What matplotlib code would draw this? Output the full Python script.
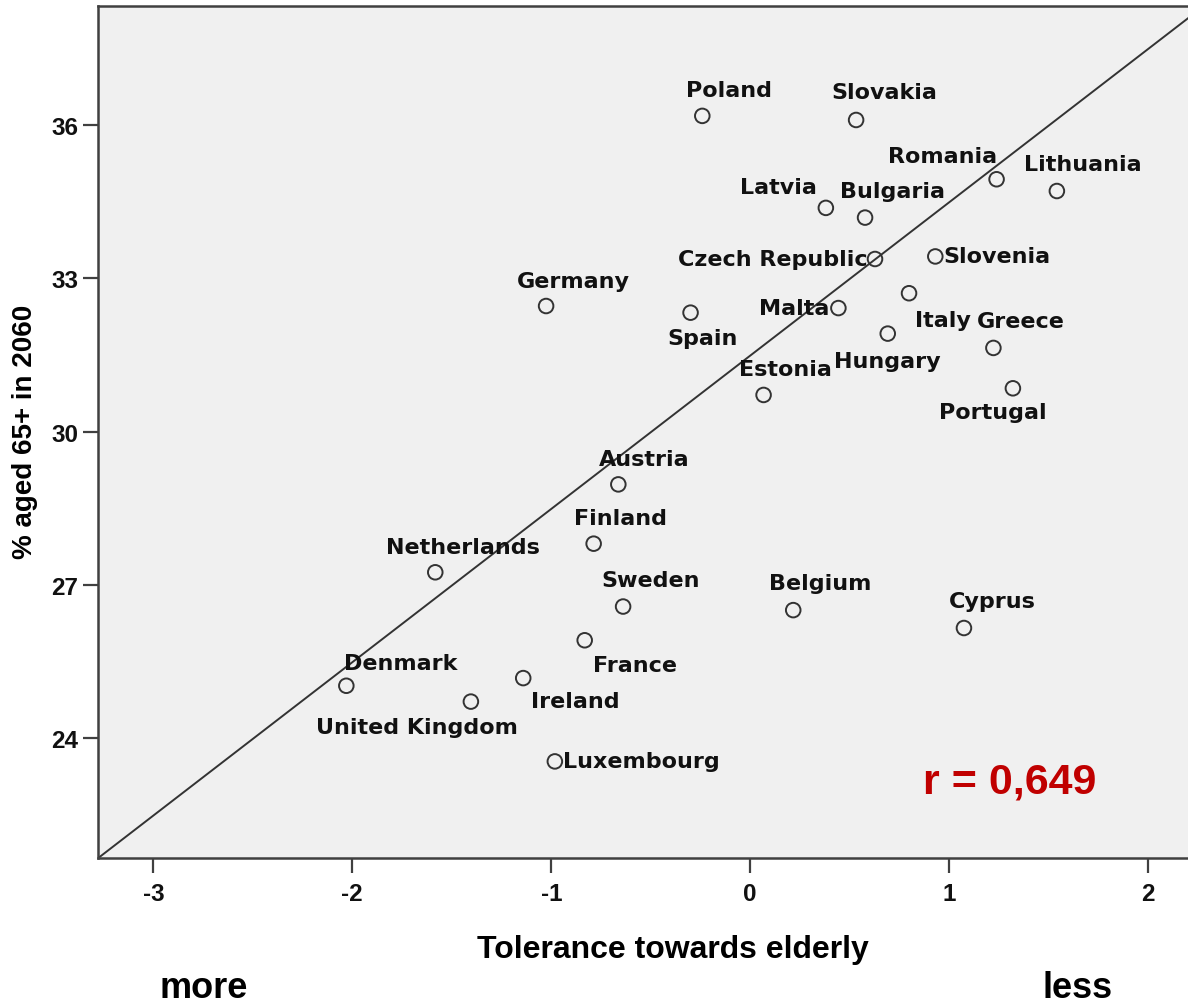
import matplotlib
matplotlib.use("Agg")
import matplotlib.pyplot as plt

plt.rcParams["axes.unicode_minus"] = False

# country, tolerance score, % aged 65+ in 2060
countries = ["Poland", "Slovakia", "Romania", "Lithuania", "Latvia", "Bulgaria",
             "Czech Republic", "Slovenia", "Italy", "Germany", "Spain", "Malta",
             "Hungary", "Estonia", "Greece", "Portugal", "Austria", "Finland",
             "Netherlands", "Sweden", "France", "Denmark", "Ireland",
             "United Kingdom", "Luxembourg", "Belgium", "Cyprus"]
tolerance = [-0.241, 0.532, 1.238, 1.541, 0.380, 0.577,
             0.627, 0.930, 0.798, -1.026, -0.300, 0.443,
             0.691, 0.067, 1.222, 1.320, -0.663, -0.787,
             -1.583, -0.639, -0.832, -2.030, -1.141,
             -1.404, -0.982, 0.216, 1.074]
aged65 = [36.18, 36.10, 34.94, 34.71, 34.38, 34.19,
          33.38, 33.43, 32.71, 32.46, 32.33, 32.42,
          31.92, 30.72, 31.64, 30.85, 28.97, 27.81,
          27.25, 26.58, 25.92, 25.03, 25.18,
          24.72, 23.55, 26.51, 26.16]

# label offsets in pixels (dx, dy up) and alignment
label_pos = {
    "Poland": (27, 26, "center"), "Slovakia": (28, 28, "center"),
    "Romania": (-54, 23, "center"), "Lithuania": (26, 27, "center"),
    "Latvia": (-47, 21, "center"), "Bulgaria": (27, 27, "center"),
    "Czech Republic": (-7, 0, "right"), "Slovenia": (8, 0, "left"),
    "Italy": (34, -27, "center"), "Germany": (27, 25, "center"),
    "Spain": (12, -25, "center"), "Malta": (-9, 0, "right"),
    "Hungary": (0, -27, "center"), "Estonia": (22, 26, "center"),
    "Greece": (27, 27, "center"), "Portugal": (-20, -24, "center"),
    "Austria": (26, 25, "center"), "Finland": (27, 26, "center"),
    "Netherlands": (28, 25, "center"), "Sweden": (28, 27, "center"),
    "France": (50, -25, "center"), "Denmark": (54, 23, "center"),
    "Ireland": (52, -23, "center"), "United Kingdom": (-54, -25, "center"),
    "Luxembourg": (8, 0, "left"), "Belgium": (27, 27, "center"),
    "Cyprus": (28, 27, "center"),
}

fit_intercept = 31.49
fit_slope = 3.0

W, H = 1188, 1004
fig = plt.figure(figsize=(W / 100, H / 100), dpi=100)
ax = fig.add_axes([98 / W, 1 - 859 / H, (W - 98) / W, (859 - 7) / H])
ax.set_facecolor("#f0f0f0")
ax.set_xlim(-3.278, 2.2)
ax.set_ylim(21.66, 38.33)

ax.axline((0, fit_intercept), slope=fit_slope, color="#333333", lw=1.4, zorder=2)
ax.scatter(tolerance, aged65, s=110, facecolors="none", edgecolors="#333333",
           linewidths=1.4, zorder=3)

for name, x, y in zip(countries, tolerance, aged65):
    dx, dy, ha = label_pos[name]
    ax.annotate(name, (x, y), xytext=(dx, dy), textcoords="offset pixels",
                ha=ha, va="center", fontsize=16, fontweight="bold",
                family="DejaVu Sans", color="#111111", zorder=4)

ax.set_xticks([-3, -2, -1, 0, 1, 2])
ax.set_yticks([24, 27, 30, 33, 36])
ax.tick_params(length=11, width=1.6, color="#404040", direction="out")
ax.tick_params(axis="x", pad=6)
ax.tick_params(axis="y", pad=3)
for lab in ax.get_xticklabels() + ax.get_yticklabels():
    lab.set_family("Liberation Sans")
    lab.set_fontweight("bold")
    lab.set_fontsize(17.5)
    lab.set_color("#111111")

for side in ["left", "bottom", "top"]:
    ax.spines[side].set_color("#404040")
    ax.spines[side].set_linewidth(1.8)
ax.spines["right"].set_visible(False)

ax.set_ylabel("% aged 65+ in 2060", fontsize=20, fontweight="bold",
              family="Liberation Sans")
ax.yaxis.set_label_coords((38 - 98) / (W - 98), (859 - 432) / (859 - 7))

fig.text(673 / W, 1 - 950 / H, "Tolerance towards elderly", ha="center", va="center",
         fontsize=23, fontweight="bold", family="Liberation Sans")
fig.text(204 / W, 1 - 998 / H, "more", ha="center", va="baseline",
         fontsize=26, fontweight="bold", family="Liberation Sans")
fig.text(1078 / W, 1 - 998 / H, "less", ha="center", va="baseline",
         fontsize=26, fontweight="bold", family="Liberation Sans")
fig.text(1010 / W, 1 - 783 / H, "r = 0,649", ha="center", va="center",
         fontsize=31, fontweight="bold", family="Liberation Sans", color="#c00000")

fig.savefig("out.png", dpi=100)
